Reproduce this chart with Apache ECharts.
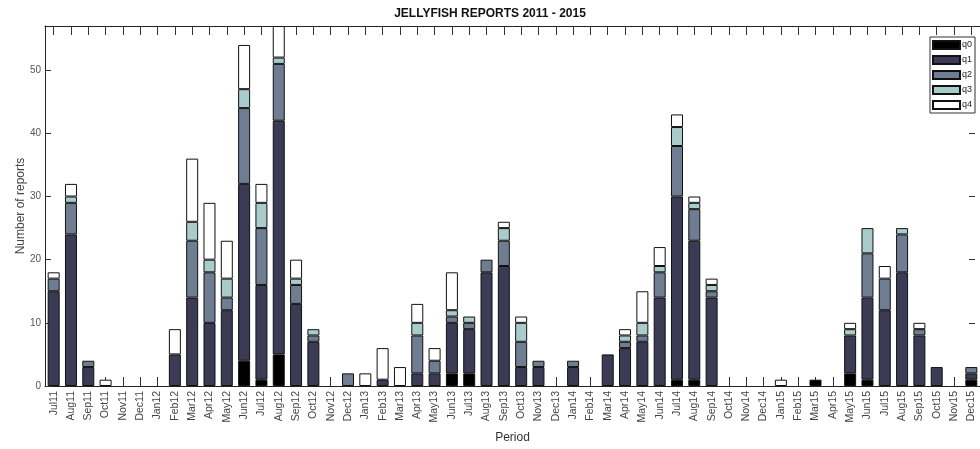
<!DOCTYPE html>
<html>
<head>
<meta charset="utf-8">
<script src="https://cdn.jsdelivr.net/npm/echarts@6/dist/echarts.min.js"></script>
<style>
  html, body { margin: 0; padding: 0; background: #fff; }
  #chart { width: 980px; height: 449px; }
</style>
</head>
<body>
<div id="chart"></div>
<script>
// months Jul11 .. Dec15
var months = [
  "Jul11", "Aug11", "Sep11", "Oct11", "Nov11", "Dec11",
  "Jan12", "Feb12", "Mar12", "Apr12", "May12", "Jun12", "Jul12", "Aug12", "Sep12", "Oct12", "Nov12", "Dec12",
  "Jan13", "Feb13", "Mar13", "Apr13", "May13", "Jun13", "Jul13", "Aug13", "Sep13", "Oct13", "Nov13", "Dec13",
  "Jan14", "Feb14", "Mar14", "Apr14", "May14", "Jun14", "Jul14", "Aug14", "Sep14", "Oct14", "Nov14", "Dec14",
  "Jan15", "Feb15", "Mar15", "Apr15", "May15", "Jun15", "Jul15", "Aug15", "Sep15", "Oct15", "Nov15", "Dec15"
];

var q0 = [
  0, 0, 0, 0, 0, 0,
  0, 0, 0, 0, 0, 4, 1, 5, 0, 0, 0, 0,
  0, 0, 0, 0, 0, 2, 2, 0, 0, 0, 0, 0,
  0, 0, 0, 0, 0, 0, 1, 1, 0, 0, 0, 0,
  0, 0, 1, 0, 2, 1, 0, 0, 0, 0, 0, 1
];
var q1 = [
  15, 24, 3, 0, 0, 0,
  0, 5, 14, 10, 12, 28, 15, 37, 13, 7, 0, 0,
  0, 1, 0, 2, 2, 8, 7, 18, 19, 3, 3, 0,
  3, 0, 5, 6, 7, 14, 29, 22, 14, 0, 0, 0,
  0, 0, 0, 0, 6, 13, 12, 18, 8, 3, 0, 1
];
var q2 = [
  2, 5, 1, 0, 0, 0,
  0, 0, 9, 8, 2, 12, 9, 9, 3, 1, 0, 2,
  0, 0, 0, 6, 2, 1, 1, 2, 4, 4, 1, 0,
  1, 0, 0, 1, 1, 4, 8, 5, 1, 0, 0, 0,
  0, 0, 0, 0, 0, 7, 5, 6, 1, 0, 0, 1
];
var q3 = [
  0, 1, 0, 0, 0, 0,
  0, 0, 3, 2, 3, 3, 4, 1, 1, 1, 0, 0,
  0, 0, 0, 2, 0, 1, 1, 0, 2, 3, 0, 0,
  0, 0, 0, 1, 2, 1, 3, 1, 1, 0, 0, 0,
  0, 0, 0, 0, 1, 4, 0, 1, 0, 0, 0, 0
];
var q4 = [
  1, 2, 0, 1, 0, 0,
  0, 4, 10, 9, 6, 7, 3, 5, 3, 0, 0, 0,
  2, 5, 3, 3, 2, 6, 0, 0, 1, 1, 0, 0,
  0, 0, 0, 1, 5, 3, 2, 1, 1, 0, 0, 0,
  1, 0, 0, 0, 1, 0, 2, 0, 1, 0, 0, 0
];

var seriesNames = ["q0", "q1", "q2", "q3", "q4"];
var seriesData = [q0, q1, q2, q3, q4];
var colors = ["#000000", "#3b3b56", "#6f7d92", "#a9cbc9", "#ffffff"];

var myChart = echarts.init(document.getElementById("chart"));

var series = seriesNames.map(function (name, i) {
  return {
    name: name,
    type: "bar",
    stack: "total",
    barWidth: 12,
    // empty segments are left out so no border line is drawn for them
    data: seriesData[i].map(function (v) {
      return v === 0 ? "-" : v;
    }),
    itemStyle: {
      color: colors[i],
      borderColor: "#111",
      borderWidth: 1,
    },
  };
});

var tickStyle = {show: true, inside: true, length: 9, interval: 0, alignWithLabel: true, lineStyle: {color: "#333"}};

myChart.setOption({
  backgroundColor: "#fff",
  animation: false,
  textStyle: {fontFamily: "Liberation Sans, Arial, sans-serif"},
  title: {
    text: "JELLYFISH REPORTS 2011 - 2015",
    left: "center",
    top: 3,
    textStyle: {
      fontSize: 12,
      fontWeight: "bold",
      color: "#111",
      fontFamily: "Liberation Sans, Arial, sans-serif",
    },
  },
  legend: {
    data: seriesNames,
    orient: "vertical",
    right: 5,
    top: 37,
    icon: "rect",
    itemWidth: 27,
    itemHeight: 8,
    itemGap: 5,
    padding: [3, 3, 3, 2],
    borderColor: "#333",
    borderWidth: 1,
    backgroundColor: "#fff",
    textStyle: {fontSize: 9, color: "#222", padding: [0, 0, 0, -3]},
  },
  grid: {
    left: 45,
    right: -5,
    top: 26,
    bottom: 59,
  },
  xAxis: [
    {
      type: "category",
      data: months,
      name: "Period",
      nameLocation: "middle",
      nameGap: 46,
      nameMoveOverlap: false,
      nameTextStyle: {fontSize: 12, color: "#333"},
      axisLine: {onZero: false, lineStyle: {color: "#222", width: 1}},
      axisTick: tickStyle,
      axisLabel: {rotate: 90, fontSize: 10.5, color: "#444", interval: 0, margin: 5},
    },
    {
      type: "category",
      data: months,
      position: "top",
      axisLine: {show: true, onZero: false, lineStyle: {color: "#222", width: 1}},
      axisTick: tickStyle,
      axisLabel: {show: false},
    },
  ],
  yAxis: [
    {
      type: "value",
      min: 0,
      max: 57,
      interval: 10,
      name: "Number of reports",
      nameLocation: "middle",
      nameGap: 18,
      nameMoveOverlap: false,
      nameTextStyle: {fontSize: 12, color: "#444"},
      axisLine: {show: true, lineStyle: {color: "#222", width: 1}},
      axisTick: {show: true, inside: true, length: 6, lineStyle: {color: "#333"}},
      axisLabel: {fontSize: 10, color: "#555", margin: 4, showMaxLabel: false},
      splitLine: {show: false},
    },
    {
      type: "value",
      min: 0,
      max: 57,
      interval: 10,
      position: "right",
      offset: -5,
      axisLine: {show: false},
      axisTick: {show: true, inside: true, length: 6, lineStyle: {color: "#333"}},
      axisLabel: {show: false},
      splitLine: {show: false},
    },
  ],
  series: series,
});
</script>
</body>
</html>
